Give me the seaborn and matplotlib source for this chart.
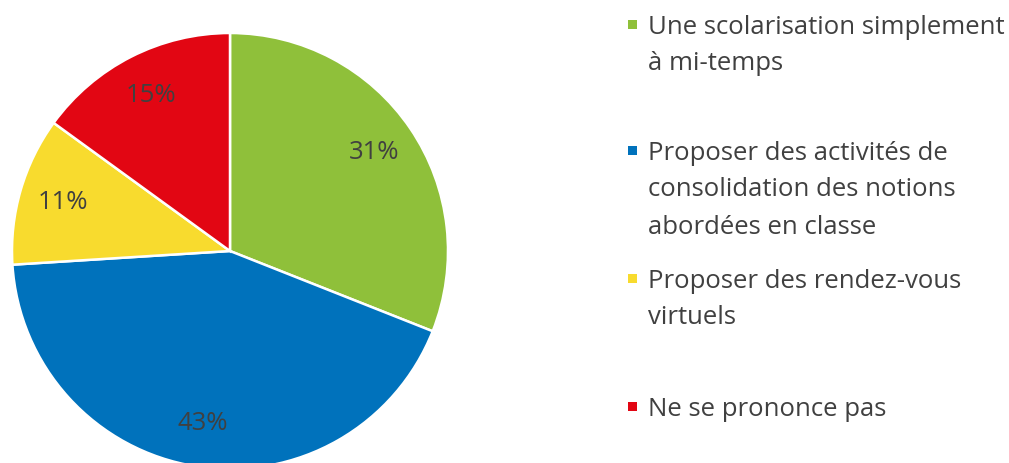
import matplotlib
matplotlib.use("Agg")
import matplotlib.pyplot as plt
import seaborn as sns
import numpy as np
from matplotlib.patches import Rectangle

sns.set_theme(style="white")
plt.rcParams['font.family'] = ['Open Sans', 'DejaVu Sans']

# Data
categories = [
    "Une scolarisation simplement\nà mi-temps",
    "Proposer des activités de\nconsolidation des notions\nabordées en classe",
    "Proposer des rendez-vous\nvirtuels",
    "Ne se prononce pas",
]
values = [31, 43, 11, 15]
colors = ["#8FC03A", "#0072BC", "#F8DB2E", "#E20613"]
pct_labels = ["31%", "43%", "11%", "15%"]

W, H = 1009, 463
fig = plt.figure(figsize=(W / 100, H / 100), dpi=100)
fig.patch.set_facecolor("white")

# pie axes: center (230, 251) px, radius 218 px
cx, cy, r = 230, 251, 218
ax = fig.add_axes([(cx - r) / W, (H - cy - r) / H, 2 * r / W, 2 * r / H])
wedges, _ = ax.pie(values, colors=colors, startangle=90, counterclock=False,
                   radius=1.0, wedgeprops=dict(edgecolor="white", linewidth=1.8))
total = sum(values)
start = 90.0
for w, lab, v in zip(wedges, pct_labels, values):
    w.set_clip_on(False)
    mid = np.deg2rad(start - 360 * v / total / 2)
    start -= 360 * v / total
    ax.text(0.8 * np.cos(mid), 0.8 * np.sin(mid), lab, ha="center", va="center",
            fontsize=18.5, color="#404040")
ax.set_xlim(-1, 1)
ax.set_ylim(-1, 1)
ax.set_aspect("equal")
ax.axis("off")

# legend (manual)
line_y = [[24, 61], [150, 187, 225], [278, 315], [406]]
for col, cat, ys in zip(colors, categories, line_y):
    fig.patches.append(Rectangle(((632 - 4.5) / W, (H - ys[0] - 4.5) / H), 9 / W, 9 / H,
                                 transform=fig.transFigure, facecolor=col,
                                 edgecolor="none"))
    for line, y in zip(cat.split("\n"), ys):
        fig.text(648 / W, (H - y) / H, line, ha="left", va="center_baseline",
                 fontsize=18.5, color="#404040")

fig.savefig("out.png", dpi=100, facecolor="white")
